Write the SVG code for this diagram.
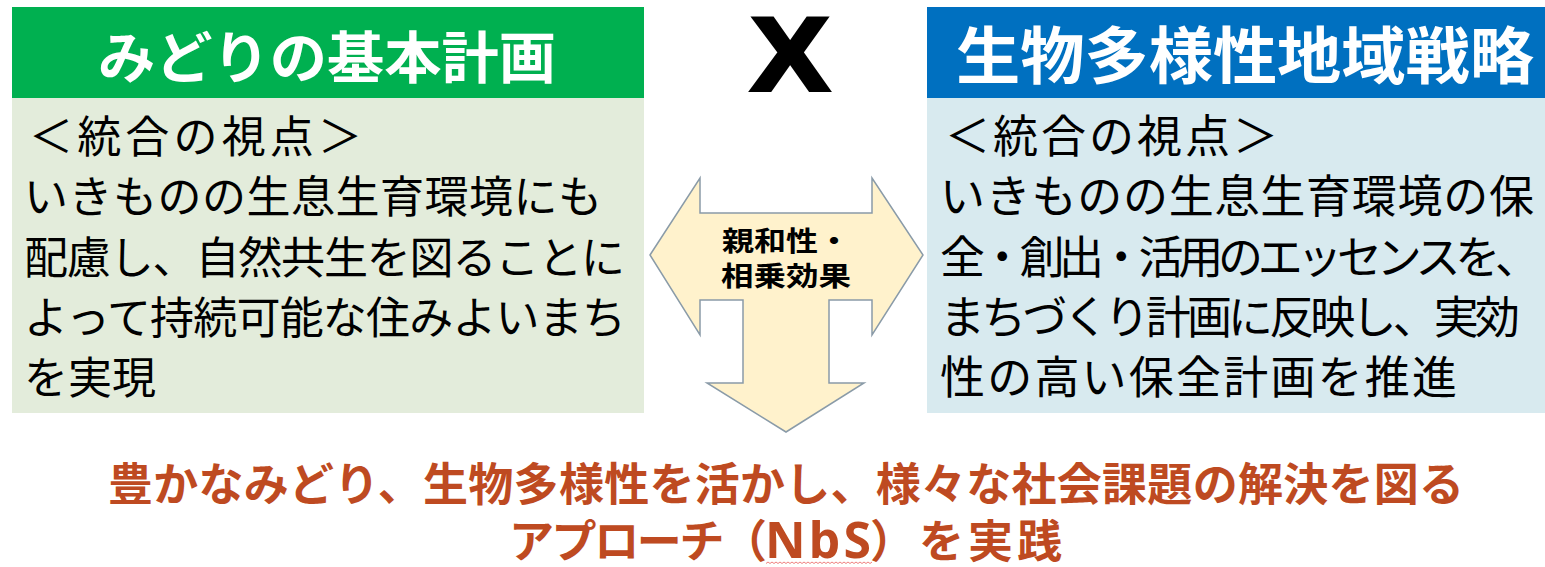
<svg xmlns="http://www.w3.org/2000/svg" width="1545" height="567" viewBox="0 0 1545 567">
<style>
.hdr{font-family:"Noto Sans CJK JP","Noto Sans",sans-serif;font-weight:700;fill:#ffffff;text-anchor:middle}
.body{font-family:"Noto Sans CJK JP","Noto Sans",sans-serif;font-weight:400;fill:#000000;font-size:44px}
.bodyr{font-family:"Noto Sans CJK JP","Noto Sans",sans-serif;font-weight:400;fill:#000000;font-size:45px}
.arrowtxt{font-family:"Noto Sans CJK JP","Noto Sans",sans-serif;font-weight:700;fill:#000000;font-size:27px;text-anchor:middle}
.concl{font-family:"Noto Sans CJK JP","Noto Sans",sans-serif;font-weight:700;fill:#BE4A21;font-size:45px}
.latin{font-family:"Noto Sans","Liberation Sans",sans-serif;font-weight:700;fill:#BE4A21;font-size:50px}
</style>
<rect width="1545" height="567" fill="#ffffff"/>
<g id="midori-plan">
  <rect x="12" y="7" width="632" height="91" fill="#00B050"/>
  <rect x="12" y="98" width="632" height="315" fill="#E3ECDB"/>
  <text class="hdr" x="327" y="78" font-size="56" textLength="458" lengthAdjust="spacingAndGlyphs">みどりの基本計画</text>
  <text class="body" x="29" y="153" textLength="333">＜統合の視点＞</text>
  <text class="body" x="24" y="213" textLength="578">いきものの生息生育環境にも</text>
  <text class="body" x="24" y="274" textLength="601">配慮し、自然共生を図ることに</text>
  <text class="body" x="24" y="334" textLength="602">よって持続可能な住みよいまち</text>
  <text class="body" x="24" y="394">を実現</text>
</g>
<g id="times-mark">
  <text x="0" y="0" transform="translate(790,90) scale(1.12,1)" font-family="Liberation Sans, Arial, sans-serif" font-weight="700" font-size="104" text-anchor="middle" fill="#000000" stroke="#000000" stroke-width="4" stroke-linejoin="miter">X</text>
</g>
<g id="biodiversity-strategy">
  <rect x="927" y="7" width="618" height="91" fill="#0070C0"/>
  <rect x="927" y="98" width="618" height="315" fill="#D8EAEF"/>
  <text class="hdr" x="1245" y="79" font-size="62" textLength="578" lengthAdjust="spacingAndGlyphs">生物多様性地域戦略</text>
  <text class="bodyr" x="945" y="153" textLength="333">＜統合の視点＞</text>
  <text class="bodyr" x="940" y="213" textLength="594">いきものの生息生育環境の保</text>
  <text class="bodyr" x="940" y="274" textLength="600">全・創出・活用のエッセンスを、</text>
  <text class="bodyr" x="940" y="334" textLength="580">まちづくり計画に反映し、実効</text>
  <text class="bodyr" x="940" y="394" textLength="517">性の高い保全計画を推進</text>
</g>
<g id="connectors">
  <path d="M650,255 L700,178 L700,213 L872,213 L872,178 L923,255 L872,335 L872,300 L829,300 L829,383 L864,383 L786,432 L707,383 L743,383 L743,300 L700,300 L700,335 Z" fill="#FFF2CC" stroke="#8A9BA8" stroke-width="1.5" stroke-linejoin="miter"/>
  <text class="arrowtxt" x="786" y="251" textLength="128" lengthAdjust="spacingAndGlyphs">親和性・</text>
  <text class="arrowtxt" x="786" y="286" textLength="130" lengthAdjust="spacingAndGlyphs">相乗効果</text>
</g>
<g id="conclusion">
  <text class="concl" x="786" y="501" text-anchor="middle" textLength="1356">豊かなみどり、生物多様性を活かし、様々な社会課題の解決を図る</text>
  <text class="concl" x="509" y="558" textLength="258">アプローチ（</text>
  <text class="latin" x="765" y="558" textLength="106">NbS</text>
  <text class="concl" x="870" y="558" textLength="192">）を実践</text>
  <path d="M766,563.5 l2,-1.5 l2,1.5 l2,-1.5 l2,1.5 l2,-1.5 l2,1.5 l2,-1.5 l2,1.5 l2,-1.5 l2,1.5 l2,-1.5 l2,1.5 l2,-1.5 l2,1.5 l2,-1.5 l2,1.5 l2,-1.5 l2,1.5 l2,-1.5 l2,1.5 l2,-1.5 l2,1.5 l2,-1.5 l2,1.5 l2,-1.5 l2,1.5 l2,-1.5 l2,1.5 l2,-1.5 l2,1.5 l2,-1.5 l2,1.5 l2,-1.5 l2,1.5 l2,-1.5 l2,1.5 l2,-1.5 l2,1.5 l2,-1.5 l2,1.5 l2,-1.5 l2,1.5 l2,-1.5 l2,1.5 l2,-1.5 l2,1.5 l2,-1.5 l2,1.5 l2,-1.5 l2,1.5 l2,-1.5 l2,1.5 l2,-1.5" fill="none" stroke="#F08080" stroke-width="1"/>
</g>
</svg>
